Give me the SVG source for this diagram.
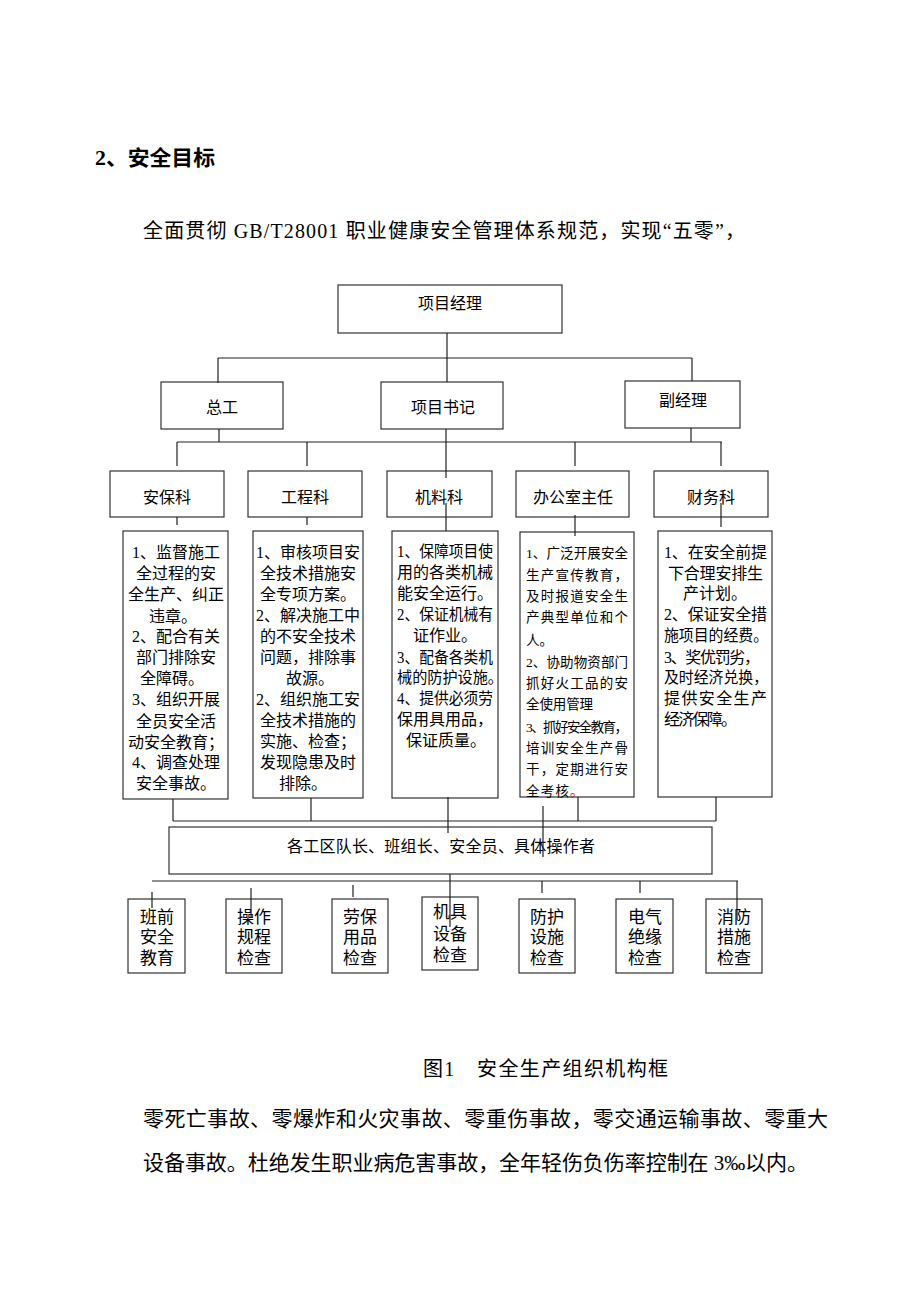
<svg xmlns="http://www.w3.org/2000/svg" width="920" height="1302" viewBox="0 0 920 1302">
<style>
.t{font-family:"Liberation Serif","Noto Sans CJK SC",serif;fill:#000}
.b{fill:#fff;stroke:#333;stroke-width:1.2}
.ln{stroke:#222;stroke-width:1.2;fill:none}
.n16{font-size:16px}
.n17{font-size:17px}
.m{text-anchor:middle}
.s4{font-size:13.5px}
</style>
<rect width="920" height="1302" fill="#fff"/>
<text class="t" x="95" y="165" font-size="21" font-weight="bold" textLength="120" lengthAdjust="spacingAndGlyphs">2、安全目标</text>
<text class="t" x="143" y="238" font-size="20" textLength="602" lengthAdjust="spacing">全面贯彻 GB/T28001 职业健康安全管理体系规范，实现“五零”，</text>

<g id="n-pm"><rect class="b" x="338" y="285" width="224" height="48"/><text class="t n16 m" x="450" y="309">项目经理</text></g>
<g id="n-zg"><rect class="b" x="161" y="382" width="122" height="47"/><text class="t n16 m" x="222" y="413">总工</text></g>
<g id="n-sj"><rect class="b" x="381" y="382" width="122" height="47"/><text class="t n16 m" x="443" y="413">项目书记</text></g>
<g id="n-fjl"><rect class="b" x="625" y="381" width="115" height="47"/><text class="t n16 m" x="683" y="406">副经理</text></g>

<g id="n-abk"><rect class="b" x="110" y="471" width="114" height="46"/><text class="t n16 m" x="167" y="503">安保科</text></g>
<g id="n-gck"><rect class="b" x="248" y="471" width="114" height="46"/><text class="t n16 m" x="305" y="503">工程科</text></g>
<g id="n-jlk"><rect class="b" x="387" y="471" width="105" height="46"/><text class="t n16 m" x="439" y="503">机料科</text></g>
<g id="n-bgs"><rect class="b" x="516" y="471" width="113" height="46"/><text class="t n16 m" x="573" y="503">办公室主任</text></g>
<g id="n-cwk"><rect class="b" x="654" y="471" width="114" height="46"/><text class="t n16 m" x="711" y="503">财务科</text></g>

<g id="n-d1"><rect class="b" x="123" y="531" width="105" height="268"/>
<g class="t n16 m">
<text x="176" y="558">1、监督施工</text>
<text x="176" y="579">全过程的安</text>
<text x="176" y="600">全生产、纠正</text>
<text x="173" y="622">违章。</text>
<text x="176" y="642">2、配合有关</text>
<text x="176" y="663">部门排除安</text>
<text x="172" y="684">全障碍。</text>
<text x="176" y="705">3、组织开展</text>
<text x="176" y="727">全员安全活</text>
<text x="176" y="748">动安全教育；</text>
<text x="176" y="768">4、调查处理</text>
<text x="176" y="789">安全事故。</text>
</g></g>

<g id="n-d2"><rect class="b" x="253" y="531" width="110" height="267"/>
<g class="t n16 m">
<text x="308" y="558">1、审核项目安</text>
<text x="308" y="579">全技术措施安</text>
<text x="308" y="600">全专项方案。</text>
<text x="308" y="621">2、解决施工中</text>
<text x="308" y="642">的不安全技术</text>
<text x="308" y="663">问题，排除事</text>
<text x="310" y="684">故源。</text>
<text x="308" y="705">2、组织施工安</text>
<text x="308" y="726">全技术措施的</text>
<text x="308" y="747">实施、检查；</text>
<text x="308" y="768">发现隐患及时</text>
<text x="303" y="789">排除。</text>
</g></g>

<g id="n-d3"><rect class="b" x="392" y="531" width="106" height="267"/>
<g class="t n16">
<text x="397" y="557" textLength="96" lengthAdjust="spacingAndGlyphs">1、保障项目使</text>
<text x="397" y="578">用的各类机械</text>
<text x="397" y="599">能安全运行。</text>
<text x="397" y="620" textLength="96" lengthAdjust="spacingAndGlyphs">2、保证机械有</text>
<text x="413" y="641">证作业。</text>
<text x="397" y="663" textLength="96" lengthAdjust="spacingAndGlyphs">3、配备各类机</text>
<text x="397" y="683" textLength="106" lengthAdjust="spacingAndGlyphs">械的防护设施。</text>
<text x="397" y="704" textLength="96" lengthAdjust="spacingAndGlyphs">4、提供必须劳</text>
<text x="397" y="725">保用具用品，</text>
<text x="406" y="746">保证质量。</text>
</g></g>

<g id="n-d4"><rect class="b" x="520" y="532" width="114" height="265"/>
<g class="t s4">
<text x="526" y="558" textLength="102" lengthAdjust="spacing">1、广泛开展安全</text>
<text x="526" y="580" textLength="102" lengthAdjust="spacing">生产宣传教育，</text>
<text x="526" y="601" textLength="102" lengthAdjust="spacing">及时报道安全生</text>
<text x="526" y="622" textLength="102" lengthAdjust="spacing">产典型单位和个</text>
<text x="526" y="645">人。</text>
<text x="526" y="667" textLength="102" lengthAdjust="spacing">2、协助物资部门</text>
<text x="526" y="688" textLength="102" lengthAdjust="spacing">抓好火工品的安</text>
<text x="526" y="709" textLength="67" lengthAdjust="spacing">全使用管理</text>
<text x="526" y="732" textLength="102" lengthAdjust="spacing">3、抓好安全教育，</text>
<text x="526" y="753" textLength="102" lengthAdjust="spacing">培训安全生产骨</text>
<text x="526" y="774" textLength="102" lengthAdjust="spacing">干，定期进行安</text>
<text x="526" y="796" letter-spacing="1.2">全考核<tspan fill="#e00000">。</tspan></text>
</g></g>

<g id="n-d5"><rect class="b" x="658" y="531" width="114" height="266"/>
<g class="t n16">
<text x="664" y="558" textLength="103" lengthAdjust="spacing">1、在安全前提</text>
<text x="668" y="579" textLength="95" lengthAdjust="spacing">下合理安排生</text>
<text x="683" y="599">产计划。</text>
<text x="664" y="620" textLength="103" lengthAdjust="spacing">2、保证安全措</text>
<text x="664" y="641" textLength="104" lengthAdjust="spacingAndGlyphs">施项目的经费。</text>
<text x="664" y="663" textLength="96" lengthAdjust="spacing">3、奖优罚劣，</text>
<text x="664" y="683" textLength="104" lengthAdjust="spacingAndGlyphs">及时经济兑换，</text>
<text x="664" y="704" textLength="103" lengthAdjust="spacing">提供安全生产</text>
<text x="664" y="725" textLength="73" lengthAdjust="spacing">经济保障。</text>
</g></g>

<g id="n-team"><rect class="b" x="169" y="827" width="543" height="47"/><text class="t n16 m" x="441" y="852" textLength="308" lengthAdjust="spacing">各工区队长、班组长、安全员、具体操作者</text></g>

<g id="n-c1"><rect class="b" x="128" y="899" width="57" height="74"/><g class="t n17 m"><text x="157" y="923">班前</text><text x="157" y="943">安全</text><text x="157" y="964">教育</text></g></g>
<g id="n-c2"><rect class="b" x="226" y="899" width="56" height="74"/><g class="t n17 m"><text x="254" y="923">操作</text><text x="254" y="943">规程</text><text x="254" y="964">检查</text></g></g>
<g id="n-c3"><rect class="b" x="332" y="899" width="56" height="74"/><g class="t n17 m"><text x="360" y="923">劳保</text><text x="360" y="943">用品</text><text x="360" y="964">检查</text></g></g>
<g id="n-c4"><rect class="b" x="422" y="897" width="56" height="73"/><g class="t n17 m"><text x="450" y="918">机具</text><text x="450" y="940">设备</text><text x="450" y="961">检查</text></g></g>
<g id="n-c5"><rect class="b" x="519" y="899" width="56" height="74"/><g class="t n17 m"><text x="547" y="923">防护</text><text x="547" y="943">设施</text><text x="547" y="964">检查</text></g></g>
<g id="n-c6"><rect class="b" x="616" y="899" width="57" height="74"/><g class="t n17 m"><text x="645" y="923">电气</text><text x="645" y="943">绝缘</text><text x="645" y="964">检查</text></g></g>
<g id="n-c7"><rect class="b" x="706" y="899" width="56" height="74"/><g class="t n17 m"><text x="734" y="923">消防</text><text x="734" y="943">措施</text><text x="734" y="964">检查</text></g></g>

<g id="connectors" class="ln">
<path d="M447 333V382M218 358H692M218 358V383M692 358V381"/>
<path d="M219 429V442M446 429V478M446 503V531M691 428V442M177 442H722"/>
<path d="M177 442V466M307 442V466M575 442V466M721 442V466"/>
<path d="M177 517V525M307 517V525M575 515V536M721 503V527"/>
<path d="M173 799V821M311 798V821M578 797V821M716 797V821M173 821H716M448 797V833M543 806V857"/>
<path d="M450 874V927M152 881H738M152 892V908M251 888V917M353 885V897M542 881V893M640 881V893M737 881V920"/>
</g>

<text class="t" x="423" y="1076" font-size="20" textLength="245" lengthAdjust="spacing">图1　安全生产组织机构框</text>
<text class="t" x="143" y="1126" font-size="21" textLength="685" lengthAdjust="spacing">零死亡事故、零爆炸和火灾事故、零重伤事故，零交通运输事故、零重大</text>
<text class="t" x="143" y="1170" font-size="21" textLength="665" lengthAdjust="spacing">设备事故。杜绝发生职业病危害事故，全年轻伤负伤率控制在 3‰以内。</text>
</svg>
